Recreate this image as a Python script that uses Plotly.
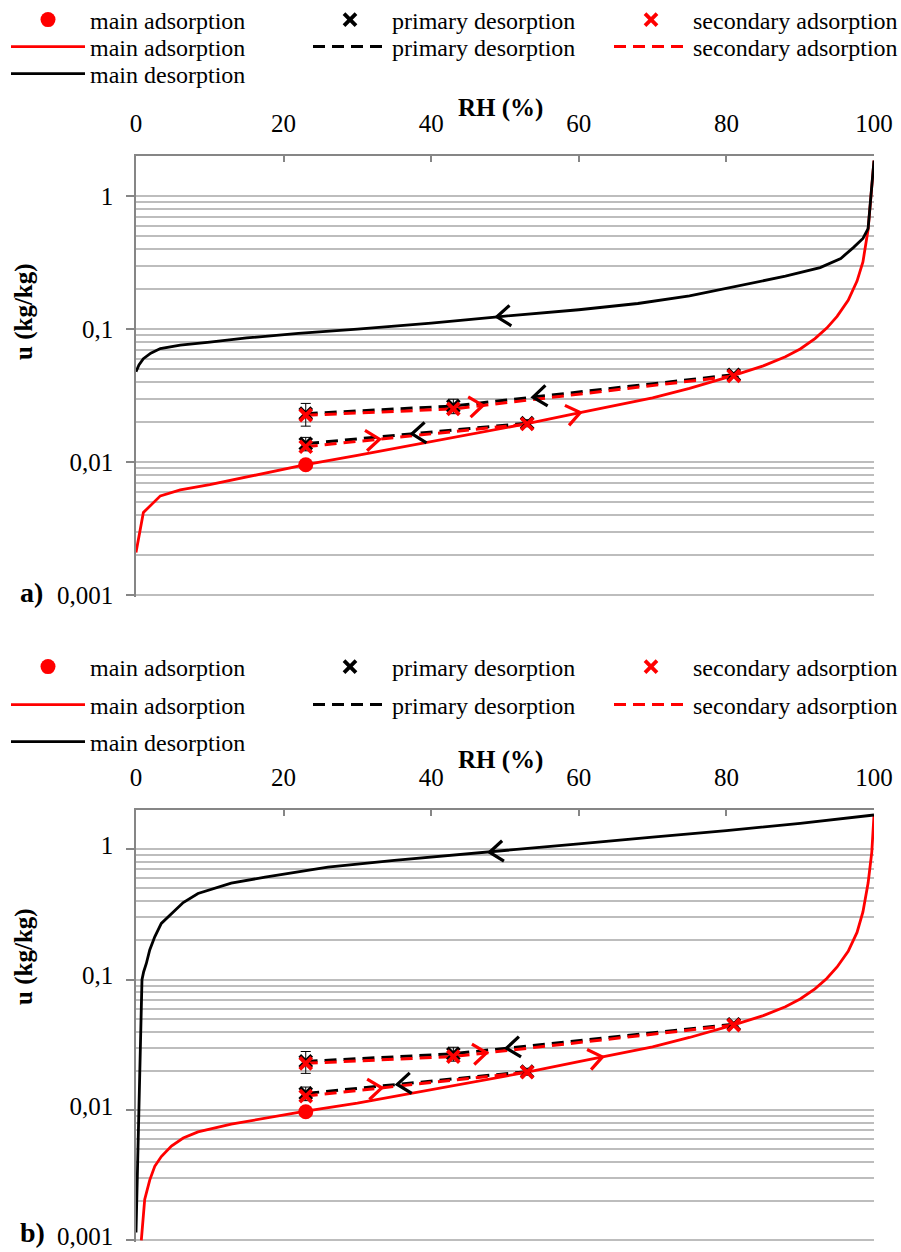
import numpy as np
import plotly.graph_objects as go

# ---------------- data ----------------
# panel a) main sorption curves (RH in %, u in kg/kg)
rh_ads_a = [0, 1, 3.3, 6, 10, 15, 20, 23, 30, 40, 50, 53, 60, 70, 75, 81, 85, 88, 90, 92, 93.6, 95, 96.5, 97.7, 98.5, 99.2, 100]
u_ads_a = [0.0021, 0.0042, 0.0056, 0.0062, 0.0068, 0.0078, 0.0089, 0.0096, 0.0113, 0.0143, 0.0181, 0.0195, 0.0235, 0.0305, 0.036, 0.045,
           0.053, 0.062, 0.071, 0.085, 0.102, 0.125, 0.165, 0.23, 0.32, 0.56, 1.85]
rh_des_a = [0, 0.4, 1, 2, 3.3, 6, 10, 15, 22, 30, 40, 49, 60, 68, 75, 82, 88, 92.7, 95.5, 97.2, 98.5, 99.2, 100]
u_des_a = [0.048, 0.054, 0.060, 0.066, 0.0715, 0.076, 0.080, 0.086, 0.093, 0.100, 0.111, 0.124, 0.140, 0.156, 0.178, 0.215, 0.250,
           0.290, 0.340, 0.410, 0.480, 0.570, 1.85]

# panel b) main sorption curves
rh_ads_b = [0.72, 1.18, 1.86, 2.54, 3.43, 4.8, 6.4, 8.4, 12.9, 17.5, 23, 30, 40, 50, 53, 60, 70, 75, 81, 85, 88, 90, 92, 93.6, 95,
            96.5, 97.7, 98.5, 99.2, 99.7, 100]
u_ads_b = [0.001, 0.00206, 0.0029, 0.0037, 0.0044, 0.0053, 0.0061, 0.0068, 0.0078, 0.0087, 0.0098, 0.0113, 0.0143, 0.0181, 0.0195,
           0.0235, 0.0305, 0.036, 0.045, 0.053, 0.062, 0.071, 0.085, 0.102, 0.125, 0.165, 0.23, 0.33, 0.55, 0.95, 1.83]
rh_des_b = [0, 0.27, 0.5, 0.72, 0.81, 1.04, 1.4, 1.86, 2.54, 3.43, 4.8, 6.4, 8.4, 12.9, 17.5, 26, 35, 48, 60, 70, 80, 90, 100]
u_des_b = [0.00115, 0.0044, 0.0143, 0.047, 0.1, 0.115, 0.133, 0.169, 0.213, 0.27, 0.32, 0.39, 0.458, 0.55, 0.61, 0.73, 0.82, 0.95,
           1.1, 1.24, 1.39, 1.58, 1.83]

# measured points (None separates the two scanning loops)
rh_main_pt = [23]
u_main_pt_a = [0.0096]
u_main_pt_b = [0.0097]
rh_pd = [81, 43, 23, None, 53, 23]
u_pd_a = [0.0455, 0.0265, 0.0232, None, 0.0197, 0.0138]
u_pd_b = [0.0455, 0.0270, 0.0236, None, 0.0197, 0.0134]
err_pd = [0.0015, 0.0033, 0.0045, 0, 0.0012, 0.0016]
rh_sa = [23, 43, 81, None, 23, 53]
u_sa_a = [0.0226, 0.0252, 0.0445, None, 0.0131, 0.0194]
u_sa_b = [0.0228, 0.0257, 0.0448, None, 0.0128, 0.0195]

# direction arrows: (curve, loop, RH of arrow tip, direction)
arrows_a = [("des", 0, 48.9, -1), ("ads", 0, 60.2, 1), ("pd", 0, 53.8, -1), ("sa", 0, 47.0, 1),
            ("sa", 1, 33.0, 1), ("pd", 1, 37.4, -1)]
arrows_b = [("des", 0, 47.9, -1), ("ads", 0, 63.2, 1), ("pd", 0, 50.2, -1), ("sa", 0, 47.5, 1),
            ("sa", 1, 33.3, 1), ("pd", 1, 35.4, -1)]

x_ticks = [0, 20, 40, 60, 80, 100]
y_ticks = [0.001, 0.01, 0.1, 1]
y_ticktext = ["0,001", "0,01", "0,1", "1"]
y_minor = [m * 10.0 ** e for e in (-3, -2, -1) for m in range(2, 10)]

# ---------------- layout geometry ----------------
W, H = 901, 1252
ML, MR, MT = 136, 27, 156
PW = W - ML - MR
YMAX = np.log10(2.0)
YMIN = -3.012
A_TOP, A_LOW = 156, 595.5      # pixel rows of top edge and of u = 0.001
B_TOP, B_LOW = 810, 1240.5


def panel_bottom(top, low):
    sy = (low - top) / (YMAX + 3)
    return low + (-3 - YMIN) * sy


A_BOT = panel_bottom(A_TOP, A_LOW)
B_BOT = panel_bottom(B_TOP, B_LOW)
MB = H - B_BOT
PH = H - MT - MB
dom_a = [(H - MB - A_BOT) / PH, (H - MB - A_TOP) / PH]
dom_b = [0, (H - MB - B_TOP) / PH]

FONT = "Liberation Serif"
RED = "#ff0000"
BLACK = "#000000"
AXC = "#868686"
GRIDC = "#bdbdbd"

# legend cells: text start x per column, row centre y per panel
LEG_TEXT_X = [90, 392, 693]
LEG_ROW_Y = {"a": [20, 47, 74], "b": [667, 705, 742]}
LEG_IW = 74


def px2paper(px, py):
    return (px - ML) / PW, (H - MB - py) / PH


def split_loops(rh, u):
    loops, cur = [], []
    for a, b in zip(rh, u):
        if a is None:
            loops.append(cur)
            cur = []
        else:
            cur.append((a, b))
    loops.append(cur)
    out = []
    for lp in loops:
        lp = sorted(lp)
        out.append((np.array([p[0] for p in lp], float), np.log10([p[1] for p in lp])))
    return out


def chevrons(specs, curves, sx, sy, L=17.0, ang=37.0):
    xs, ys = [], []
    for key, loop, rh0, d in specs:
        rr, ll = curves[key][loop]
        f = lambda r: float(np.interp(r, rr, ll))
        h = 0.4
        dx = 2 * h * sx * d
        dy = (f(rh0 + h) - f(rh0 - h)) * sy * d
        n = np.hypot(dx, dy)
        ux, uy = dx / n, dy / n
        X0, Y0 = rh0 * sx, f(rh0) * sy
        pts = []
        for s in (1, -1):
            a = np.radians(ang) * s
            wx = X0 - L * (ux * np.cos(a) - uy * np.sin(a))
            wy = Y0 - L * (ux * np.sin(a) + uy * np.cos(a))
            pts.append((wx, wy))
        for (px_, py_) in (pts[0], (X0, Y0), pts[1]):
            xs.append(px_ / sx)
            ys.append(10 ** (py_ / sy))
        xs.append(None)
        ys.append(None)
    return xs, ys


fig = go.Figure()
legend_cells = {}


def leg(panel, row, col):
    idx = len(legend_cells) + 1
    name = "legend" if idx == 1 else "legend%d" % idx
    legend_cells[name] = (LEG_TEXT_X[col] - LEG_IW - 10, LEG_ROW_Y[panel][row])
    return name


def add_panel(panel, xa, ya, rh_ads, u_ads, rh_des, u_des, u_main_pt, u_pd, u_sa, arrows, top, bot):
    sx = PW / 100.0
    sy = (bot - top) / (YMAX - YMIN)
    common = dict(xaxis=xa, yaxis=ya)
    fig.add_trace(go.Scatter(x=rh_ads, y=u_ads, mode="lines", name="main adsorption",
                             line=dict(color=RED, width=2.8), legend=leg(panel, 1, 0), **common))
    fig.add_trace(go.Scatter(x=rh_des, y=u_des, mode="lines", name="main desorption",
                             line=dict(color=BLACK, width=2.8), legend=leg(panel, 2, 0), **common))
    fig.add_trace(go.Scatter(x=rh_pd, y=u_pd, mode="lines", name="primary desorption", connectgaps=False,
                             line=dict(color=BLACK, width=3, dash="12px,7px"), legend=leg(panel, 1, 1), **common))
    fig.add_trace(go.Scatter(x=rh_sa, y=u_sa, mode="lines", name="secondary adsorption", connectgaps=False,
                             line=dict(color=RED, width=3, dash="12px,7px"), legend=leg(panel, 1, 2), **common))
    curves = {
        "ads": split_loops(rh_ads, u_ads),
        "des": split_loops(rh_des, u_des),
        "pd": split_loops(rh_pd, u_pd),
        "sa": split_loops(rh_sa, u_sa),
    }
    for color, keys in ((BLACK, ("des", "pd")), (RED, ("ads", "sa"))):
        spec = [a for a in arrows if a[0] in keys]
        cx, cy = chevrons(spec, curves, sx, sy)
        fig.add_trace(go.Scatter(x=cx, y=cy, mode="lines", showlegend=False, hoverinfo="skip",
                                 line=dict(color=color, width=3.2), **common))
    fig.add_trace(go.Scatter(x=rh_pd, y=u_pd, mode="markers", name="primary desorption",
                             marker=dict(symbol="x-thin", size=12, line=dict(color=BLACK, width=3.8)),
                             error_y=dict(type="data", array=err_pd, color=BLACK, thickness=1, width=5),
                             legend=leg(panel, 0, 1), **common))
    fig.add_trace(go.Scatter(x=rh_sa, y=u_sa, mode="markers", name="secondary adsorption",
                             marker=dict(symbol="x-thin", size=12, line=dict(color=RED, width=3.8)),
                             legend=leg(panel, 0, 2), **common))
    fig.add_trace(go.Scatter(x=rh_main_pt, y=u_main_pt, mode="markers", name="main adsorption",
                             marker=dict(symbol="circle", size=15, color=RED),
                             legend=leg(panel, 0, 0), **common))


add_panel("a", "x", "y", rh_ads_a, u_ads_a, rh_des_a, u_des_a, u_main_pt_a, u_pd_a, u_sa_a, arrows_a, A_TOP, A_BOT)
add_panel("b", "x2", "y2", rh_ads_b, u_ads_b, rh_des_b, u_des_b, u_main_pt_b, u_pd_b, u_sa_b, arrows_b, B_TOP, B_BOT)

xaxis_style = dict(range=[0, 100], side="top", tickvals=x_ticks, ticks="inside", ticklen=6, tickwidth=1.5,
                   tickcolor=AXC, showline=True, linecolor=AXC, linewidth=1.5, showgrid=False, zeroline=False,
                   tickfont=dict(family=FONT, size=25, color="black"), ticklabelstandoff=12)
yaxis_style = dict(type="log", range=[YMIN, YMAX], tickvals=y_ticks, ticktext=y_ticktext, ticks="outside",
                   ticklen=8, tickwidth=1.5, tickcolor=AXC, showline=True, linecolor=AXC, linewidth=1.5,
                   showgrid=True, gridcolor=GRIDC, gridwidth=1.5, zeroline=False, ticklabeloverflow="allow",
                   tickfont=dict(family=FONT, size=25, color="black"), ticklabelstandoff=8,
                   minor=dict(tickvals=y_minor, showgrid=True, gridcolor=GRIDC, gridwidth=1.5, ticks=""))

legend_style = dict(orientation="v", xref="container", yref="container",
                    xanchor="left", yanchor="middle", bgcolor="rgba(0,0,0,0)", borderwidth=0,
                    font=dict(family=FONT, size=24, color="black"), itemwidth=LEG_IW)
legends = {k: dict(legend_style, x=px / W, y=1 - py / H) for k, (px, py) in legend_cells.items()}

annotations = []
for (tx, ty, txt, size, angle, anchor) in [
    (500, 108, "<b>RH (%)</b>", 25, 0, "center"),
    (500, 760, "<b>RH (%)</b>", 25, 0, "center"),
    (24, 312, "<b>u (kg/kg)</b>", 25, -90, "center"),
    (24, 957, "<b>u (kg/kg)</b>", 25, -90, "center"),
    (18, 593, "<b>a)</b>", 28, 0, "left"),
    (18, 1233, "<b>b)</b>", 28, 0, "left"),
]:
    px_, py_ = px2paper(tx, ty)
    annotations.append(dict(x=px_, y=py_, xref="paper", yref="paper", text=txt, showarrow=False,
                            textangle=angle, xanchor=anchor, yanchor="middle",
                            font=dict(family=FONT, size=size, color="black")))

fig.update_layout(
    width=W, height=H,
    margin=dict(l=ML, r=MR, t=MT, b=MB, pad=0, autoexpand=False),
    paper_bgcolor="white", plot_bgcolor="white",
    font=dict(family=FONT, size=24, color="black"),
    xaxis=dict(xaxis_style, anchor="y", domain=[0, 1]),
    yaxis=dict(yaxis_style, anchor="x", domain=dom_a),
    xaxis2=dict(xaxis_style, anchor="y2", domain=[0, 1]),
    yaxis2=dict(yaxis_style, anchor="x2", domain=dom_b, ticklabelshift=-4),
    annotations=annotations,
    showlegend=True,
    **legends,
)

fig.write_html("out.html")
